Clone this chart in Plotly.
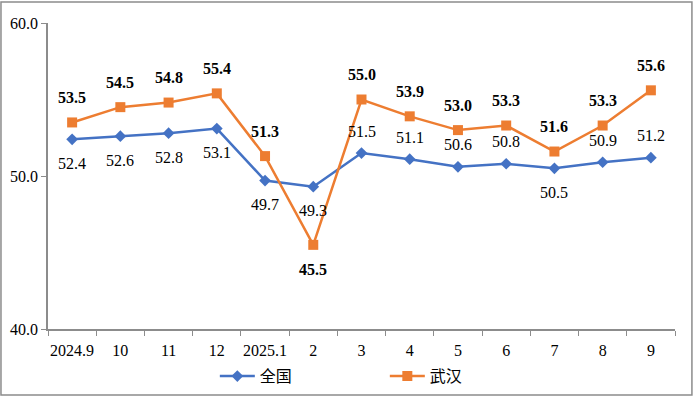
import plotly.graph_objects as go

categories = ["2024.9", "10", "11", "12", "2025.1", "2", "3", "4", "5", "6", "7", "8", "9"]
national = [52.4, 52.6, 52.8, 53.1, 49.7, 49.3, 51.5, 51.1, 50.6, 50.8, 50.5, 50.9, 51.2]
wuhan = [53.5, 54.5, 54.8, 55.4, 51.3, 45.5, 55.0, 53.9, 53.0, 53.3, 51.6, 53.3, 55.6]
national_label_side = ["below", "below", "below", "below", "below", "below", "above",
                       "above", "above", "above", "below", "above", "above"]
wuhan_label_side = ["above", "above", "above", "above", "above", "below", "above",
                    "above", "above", "above", "above", "above", "above"]

BLUE = "#4472C4"
ORANGE = "#ED7D31"
SERIF = "'Liberation Serif', 'Times New Roman', 'DejaVu Serif', serif"
CJK = "'Noto Sans CJK SC', sans-serif"

fig = go.Figure()
fig.add_trace(go.Scatter(
    x=categories, y=national, name="全国", mode="lines+markers",
    line=dict(color=BLUE, width=2.5),
    marker=dict(symbol="diamond", size=9, color=BLUE),
))
fig.add_trace(go.Scatter(
    x=categories, y=wuhan, name="武汉", mode="lines+markers",
    line=dict(color=ORANGE, width=2.5),
    marker=dict(symbol="square", size=10, color=ORANGE),
))

for i, (v, side) in enumerate(zip(national, national_label_side)):
    fig.add_annotation(x=i, y=v, text=f"{v:.1f}", showarrow=False,
                       yshift=(22 if side == "above" else -24),
                       font=dict(family=SERIF, size=16, color="#000"))
for i, (v, side) in enumerate(zip(wuhan, wuhan_label_side)):
    fig.add_annotation(x=i, y=v, text=f"<b>{v:.1f}</b>", showarrow=False,
                       yshift=(25 if side == "above" else -25),
                       font=dict(family=SERIF, size=16, color="#000"))

fig.add_shape(type="rect", xref="paper", yref="paper",
              x0=-0.075, x1=1.027, y0=-0.2157, y1=1.0686,
              line=dict(color="#8c8c8c", width=1.5), fillcolor="rgba(0,0,0,0)")

fig.update_layout(
    width=693, height=396,
    margin=dict(l=48, r=18, t=23, b=67, autoexpand=False),
    paper_bgcolor="white", plot_bgcolor="white",
    font=dict(family=SERIF, size=16, color="#000"),
    showlegend=True,
    legend=dict(orientation="h", xref="container", yref="container",
                x=0.31, y=0.05, xanchor="left", yanchor="middle",
                font=dict(family=CJK, size=16, color="#000"),
                entrywidth=120, itemwidth=35, traceorder="normal",
                bgcolor="rgba(0,0,0,0)"),
    xaxis=dict(type="category", range=[-0.5, 12.5], showgrid=False, automargin=False,
               showline=True, linecolor="#8c8c8c", linewidth=1.5, tickangle=0,
               ticks="outside", tickson="boundaries", ticklen=5, tickcolor="#8c8c8c",
               ticklabelstandoff=6,
               tickfont=dict(family=SERIF, size=16, color="#000")),
    yaxis=dict(range=[40, 60], dtick=10, tickformat=".1f", showgrid=False, automargin=False,
               zeroline=False, showline=True, linecolor="#8c8c8c", linewidth=1.5,
               ticks="outside", ticklen=5, tickcolor="#8c8c8c",
               tickfont=dict(family=SERIF, size=16, color="#000")),
)

fig.write_html("out.html", config={"displayModeBar": False},
               post_script="document.body.style.margin='0';document.body.style.padding='0';")
